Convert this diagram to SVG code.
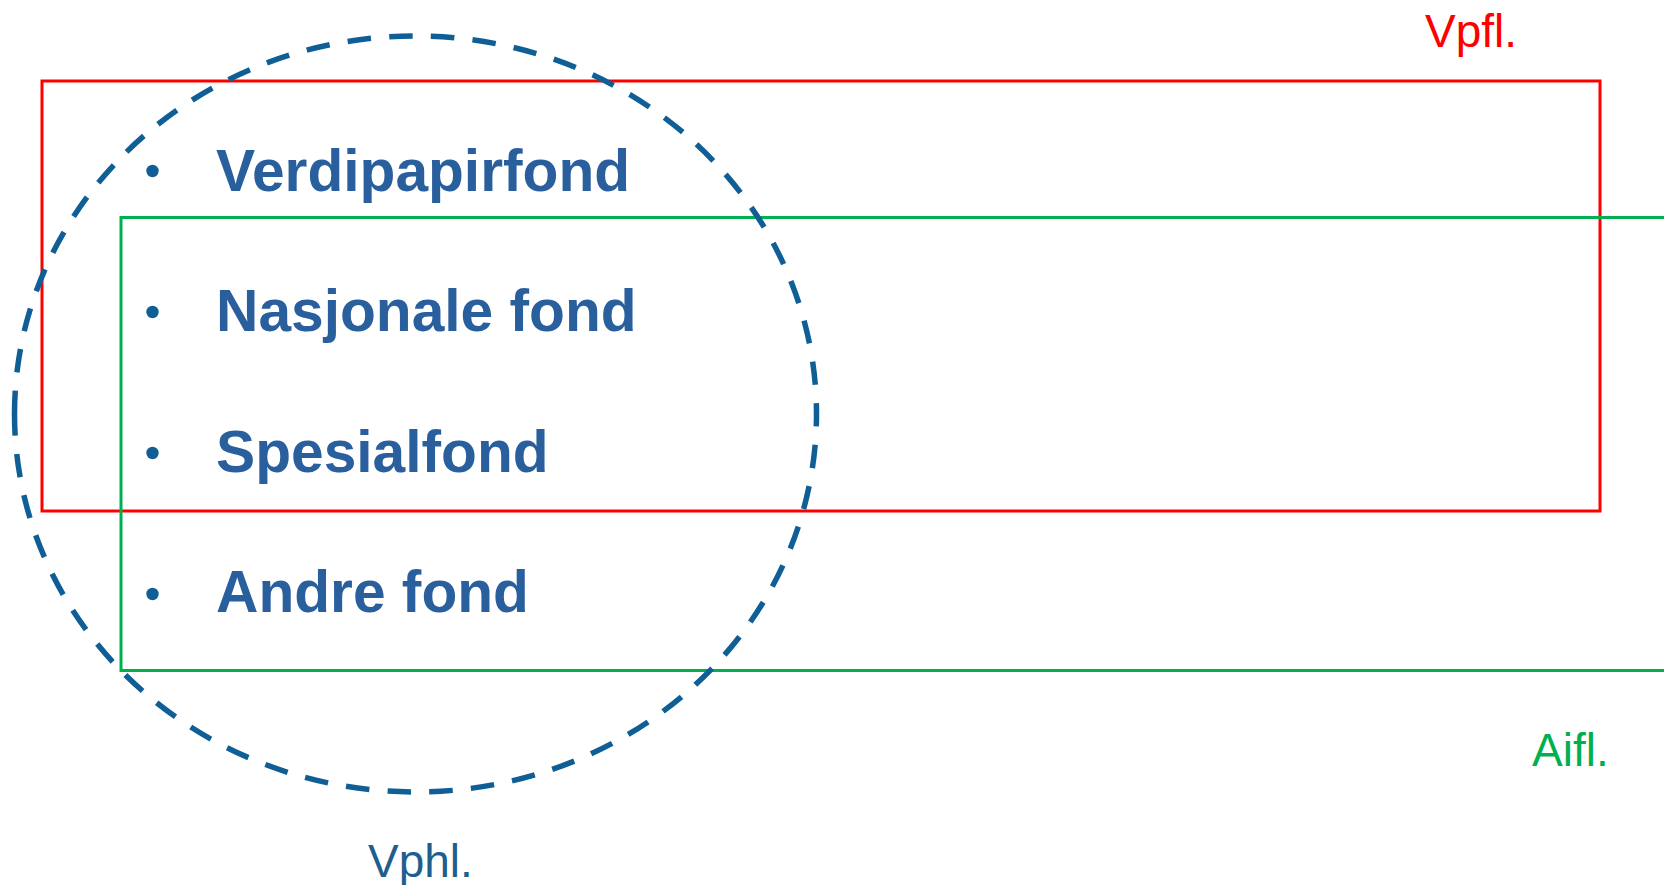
<svg xmlns="http://www.w3.org/2000/svg" width="1664" height="885" viewBox="0 0 1664 885">
  <style>
    .frame { fill: none; stroke-width: 3; }
    .item { font-family: "Liberation Sans", Arial, sans-serif; font-weight: bold; font-size: 58.7px; fill: #2A5F9E; }
    .label { font-family: "Liberation Sans", Arial, sans-serif; font-size: 46px; }
    .bullet { fill: #0F5F96; }
  </style>
  <rect width="1664" height="885" fill="#FFFFFF"/>

  <!-- Vpfl. region -->
  <g id="vpfl">
    <rect class="frame" x="42" y="81" width="1558" height="430" stroke="#FF0000"/>
    <text class="label" x="1425" y="47" fill="#FF0000">Vpfl.</text>
  </g>

  <!-- Aifl. region (runs off the right edge) -->
  <g id="aifl">
    <polyline class="frame" points="1670,217.5 121,217.5 121,670.5 1670,670.5" stroke="#00B050"/>
    <text class="label" x="1532" y="766" fill="#00B050">Aifl.</text>
  </g>

  <!-- Vphl. region: dashed ellipse starting at its leftmost point -->
  <g id="vphl">
    <path d="M14.5,414 A401,378 0 0 1 816.5,414 A401,378 0 0 1 14.5,414 Z" pathLength="2448"
          fill="none" stroke="#0F5F96" stroke-width="5.5" stroke-dasharray="23.5 18.33"/>
    <text class="label" x="368" y="877" fill="#1F5E8E">Vphl.</text>
  </g>

  <!-- fund list -->
  <g id="funds">
    <circle class="bullet" cx="152.5" cy="171" r="6.2"/>
    <text class="item" x="216" y="191">Verdipapirfond</text>
    <circle class="bullet" cx="152.5" cy="312" r="6.2"/>
    <text class="item" x="216" y="331">Nasjonale fond</text>
    <circle class="bullet" cx="152.5" cy="453" r="6.2"/>
    <text class="item" x="216" y="472">Spesialfond</text>
    <circle class="bullet" cx="152.5" cy="594" r="6.2"/>
    <text class="item" x="216" y="612">Andre fond</text>
  </g>
</svg>
